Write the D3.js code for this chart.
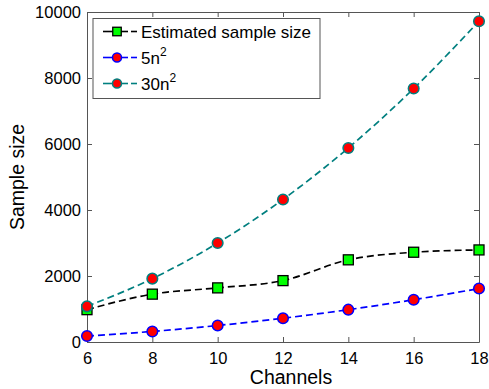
<!DOCTYPE html>
<html>
<head>
<meta charset="utf-8">
<script src="https://cdn.jsdelivr.net/npm/d3@7"></script>
<style>
body { margin: 0; background: #fff; }
svg { font-family: "Liberation Sans", Arial, sans-serif; }
</style>
</head>
<body>
<svg id="chart" width="489" height="389"></svg>
<script>
var channels = [6, 8, 10, 12, 14, 16, 18];
var estimated = [980, 1450, 1640, 1860, 2490, 2720, 2790];
var fiveN2 = [180, 320, 500, 720, 980, 1280, 1620];
var thirtyN2 = [1080, 1920, 3000, 4320, 5880, 7680, 9720];
var xTicks = [6, 8, 10, 12, 14, 16, 18];
var yTicks = [0, 2000, 4000, 6000, 8000, 10000];

var plotLeft = 87, plotRight = 479, plotTop = 12, plotBottom = 342;
var svg = d3.select("#chart");

var x = d3.scaleLinear().domain([6, 18]).range([plotLeft, plotRight]);
var y = d3.scaleLinear().domain([0, 10000]).range([plotBottom, plotTop]);

// axes, ticks point inward on every side
var tickLen = 5;
var axisColor = "#555";
var xb = svg.append("g").attr("transform", "translate(0," + plotBottom + ")")
    .call(d3.axisBottom(x).tickValues(xTicks).tickSizeInner(-tickLen).tickSizeOuter(0).tickPadding(10));
var xt = svg.append("g").attr("transform", "translate(0," + plotTop + ")")
    .call(d3.axisTop(x).tickValues(xTicks).tickSizeInner(-tickLen).tickSizeOuter(0).tickFormat(""));
var yl = svg.append("g").attr("transform", "translate(" + plotLeft + ",0)")
    .call(d3.axisLeft(y).tickValues(yTicks).tickSizeInner(-tickLen).tickSizeOuter(0).tickPadding(6).tickFormat(d3.format("d")));
var yr = svg.append("g").attr("transform", "translate(" + plotRight + ",0)")
    .call(d3.axisRight(y).tickValues(yTicks).tickSizeInner(-tickLen).tickSizeOuter(0).tickFormat(""));

[xb, xt, yl, yr].forEach(function(g) {
    g.select(".domain").attr("stroke", axisColor).attr("stroke-width", 1);
    g.selectAll(".tick line").attr("stroke", axisColor);
    g.selectAll("text").attr("font-size", 16.5).attr("fill", "#000")
        .attr("font-family", "Liberation Sans, Arial, sans-serif");
});

svg.append("text").attr("x", (plotLeft + plotRight) / 2 + 8).attr("y", 384)
    .attr("text-anchor", "middle").attr("font-size", 19.5).text("Channels");
svg.append("text").attr("transform", "translate(24," + (plotBottom + plotTop) / 2 + ") rotate(-90)")
    .attr("text-anchor", "middle").attr("font-size", 19.5).text("Sample size");

var series = [
    {name: "Estimated sample size", values: estimated, line: "#000", marker: "square", fill: "#00ff00", edge: "#000"},
    {name: "5n", values: fiveN2, line: "#0000ff", marker: "circle", fill: "#ff0000", edge: "#0000ff"},
    {name: "30n", values: thirtyN2, line: "#007f7f", marker: "circle", fill: "#ff0000", edge: "#007f7f"}
];

var line = d3.line()
    .x(function(d) { return x(d[0]); })
    .y(function(d) { return y(d[1]); })
    .curve(d3.curveMonotoneX);

var drawMarker = function(g, s, cx, cy, k) {
    if (s.marker == "square") {
        var h = 5 * k;
        g.append("rect").attr("x", cx - h).attr("y", cy - h).attr("width", 2 * h).attr("height", 2 * h)
            .attr("fill", s.fill).attr("stroke", s.edge).attr("stroke-width", 1.3);
    } else {
        g.append("circle").attr("cx", cx).attr("cy", cy).attr("r", 5.3 * k)
            .attr("fill", s.fill).attr("stroke", s.edge).attr("stroke-width", 1.5);
    }
};

var order = [1, 0, 2];
order.forEach(function(i) {
    var s = series[i];
    var pts = channels.map(function(c, j) { return [c, s.values[j]]; });
    svg.append("path").datum(pts).attr("d", line)
        .attr("fill", "none").attr("stroke", s.line).attr("stroke-width", 1.7)
        .attr("stroke-dasharray", "7,4");
    var mg = svg.append("g");
    pts.forEach(function(p) { drawMarker(mg, s, x(p[0]), y(p[1]), 1); });
});

// legend
var lg = svg.append("g");
lg.append("rect").attr("x", 93).attr("y", 18.5).attr("width", 227).attr("height", 80)
    .attr("fill", "#fff").attr("stroke", "#555").attr("stroke-width", 1);
series.forEach(function(s, i) {
    var ly = 31.5 + i * 26;
    lg.append("line").attr("x1", 103).attr("x2", 128).attr("y1", ly).attr("y2", ly)
        .attr("stroke", s.line).attr("stroke-width", 1.6);
    lg.append("line").attr("x1", 131).attr("x2", 137).attr("y1", ly).attr("y2", ly)
        .attr("stroke", s.line).attr("stroke-width", 1.6);
    drawMarker(lg, s, 117, ly, 0.85);
    var t = lg.append("text").attr("x", 141).attr("y", ly + 6).attr("font-size", 17);
    t.append("tspan").text(s.name);
    if (i > 0) t.append("tspan").attr("font-size", 12).attr("dy", -8).text("2");
});
</script>
</body>
</html>
